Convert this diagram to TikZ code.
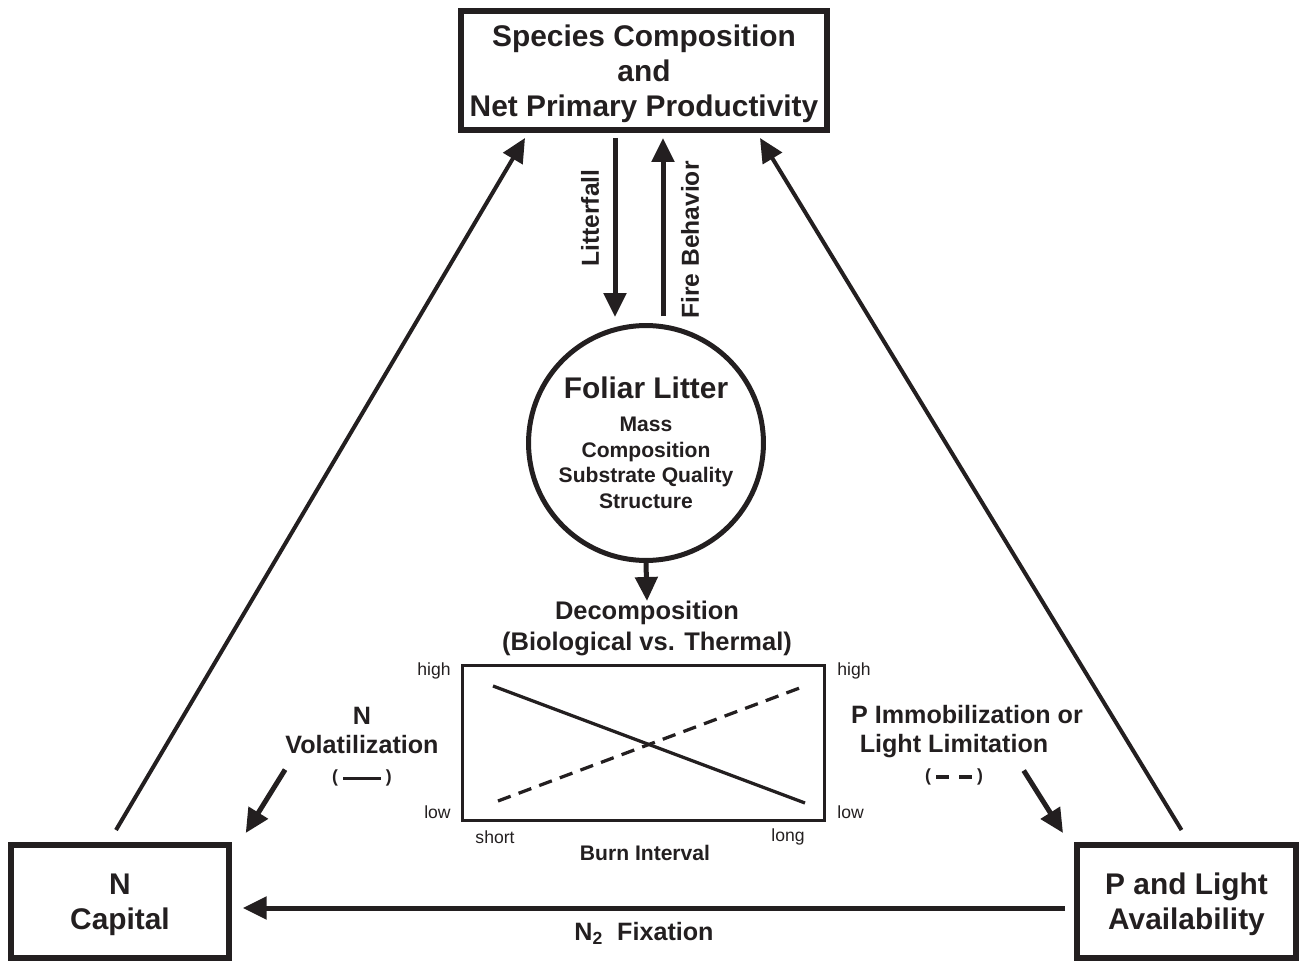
\documentclass[tikz,border=0pt]{standalone}
\usepackage{fontspec}
\setmainfont{Liberation Sans}
\usetikzlibrary{arrows.meta,positioning,calc,shapes.geometric}

\definecolor{ink}{HTML}{231F20}

\begin{document}
\begin{tikzpicture}[x=0.02cm, y=-0.02cm, color=ink,
  >={Triangle[length=0.48cm, width=0.44cm]},
  bigbox/.style={rectangle, draw, line width=0.12cm, align=center, text depth=0pt, font=\bfseries\fontsize{17}{20}\selectfont},
  lbl/.style={align=center, inner sep=0pt, font=\bfseries\fontsize{14.3}{16.5}\selectfont},
  tick/.style={inner sep=0pt, font=\fontsize{10}{12}\selectfont},
  flow/.style={->, line width=0.1cm},
  link/.style={->, line width=0.08cm}]
\useasboundingbox (0,0) rectangle (1299,963);

% main boxes
\node[bigbox, minimum width=7.32cm, minimum height=2.38cm, name=spc] at (644,70.5) {Species Composition\\and\\Net Primary Productivity};
\node[bigbox, minimum width=4.35cm, minimum height=2.26cm, name=ncap] at (120,901.5) {N\\Capital};
\node[bigbox, minimum width=4.38cm, minimum height=2.26cm, name=pla] at (1186.5,901.5) {P and Light\\Availability};

% litter circle
\node[circle, draw, line width=0.1cm, minimum size=4.66cm, align=center, font=\bfseries\fontsize{12}{14.7}\selectfont, name=fol] at (646,443)
  {{\fontsize{17}{17}\selectfont Foliar Litter}\\[3.8pt]Mass\\Composition\\Substrate Quality\\Structure};

% decomposition plot
\node[lbl, anchor=north, font=\bfseries\fontsize{14.5}{17.6}\selectfont, name=dec] at (647,601) {Decomposition\\(Biological vs. Thermal)};
\node[rectangle, draw, line width=0.07cm, minimum width=7.24cm, minimum height=3.11cm, name=plot] at (643.5,743) {};
\draw[line width=0.065cm] (493,686) -- (805,803);
\draw[line width=0.065cm, dash pattern=on 0.27cm off 0.17cm] (498,801) -- (805,686);
\node[tick, anchor=east, name=hileft] at (451,671) {high};
\node[tick, anchor=east, name=loleft] at (451,812) {low};
\node[tick, anchor=west, name=hiright] at (837,671) {high};
\node[tick, anchor=west, name=loright] at (837,812) {low};
\node[tick, name=short] at (495,837) {short};
\node[tick, name=long] at (788,837) {long};
\node[lbl, font=\bfseries\fontsize{12}{14}\selectfont, name=burn] at (645,853) {Burn Interval};

% side labels
\node[lbl, anchor=north, name=nvol] at (362,707)
  {N\\Volatilization\\{\fontsize{10}{12}\selectfont(\hspace{0.1cm}\rule[0.3ex]{0.76cm}{0.066cm}\hspace{0.1cm})}};
\node[lbl, anchor=north, name=pimm] at (967,705)
  {P Immobilization or\\Light Limitation\rule{0.52cm}{0pt}\\{\fontsize{10}{12}\selectfont(\hspace{0.1cm}\rule[0.3ex]{0.26cm}{0.066cm}\hspace{0.2cm}\rule[0.3ex]{0.26cm}{0.066cm}\hspace{0.1cm})\rule{0.52cm}{0pt}}};
\node[lbl, rotate=90, font=\bfseries\fontsize{14}{16}\selectfont, name=litlbl] at (590,218) {Litterfall};
\node[lbl, rotate=90, font=\bfseries\fontsize{14}{16}\selectfont, name=firelbl] at (690,240) {Fire Behavior};
\node[lbl, name=nfix] at (644,933) {N\textsubscript{2}\ \ Fixation};

% arrows
\draw[flow] ([shift={(-29,5)}]spc.south) -- ([shift={(-31,-6)}]fol.north);
\draw[flow] ([shift={(17,-7)}]fol.north) -- ([shift={(19,5)}]spc.south);
\draw[flow] (fol.south) -- (dec.north);
\draw[link] ([shift={(-4,-12)}]ncap.north) -- ([shift={(-119,5)}]spc.south);
\draw[link] ([shift={(-5,-12)}]pla.north) -- ([shift={(116,5)}]spc.south);
\draw[flow] ([shift={(0,-17)}]nvol.south west) -- ([shift={(14,-9)}]ncap.north east);
\draw[flow] ([shift={(-59.5,-15)}]pimm.south east) -- ([shift={(-11,-9)}]pla.north west);
\draw[flow] ([shift={(-9,6.5)}]pla.west) -- ([shift={(11,6.5)}]ncap.east);
\end{tikzpicture}
\end{document}
